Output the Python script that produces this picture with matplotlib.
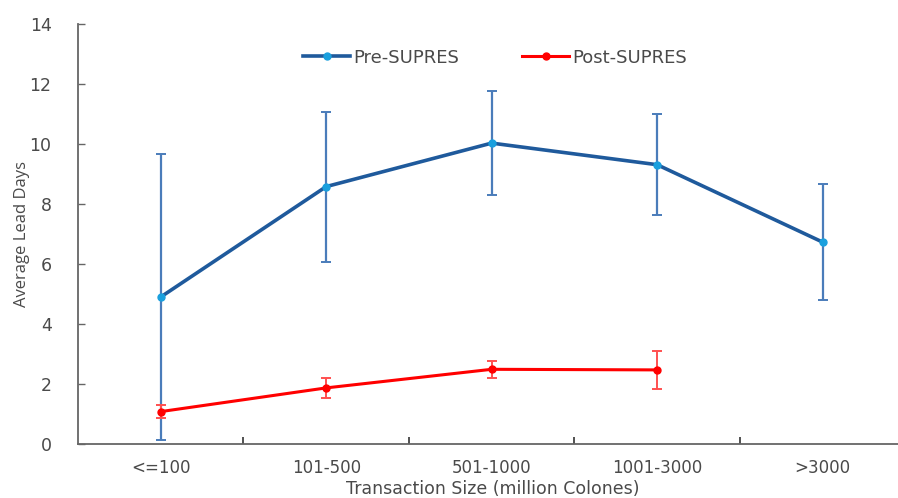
import matplotlib
matplotlib.use("Agg")
import matplotlib.pyplot as plt
from matplotlib.lines import Line2D
import numpy as np

categories = ["<=100", "101-500", "501-1000", "1001-3000", ">3000"]
pre_mean = [4.9, 8.58, 10.03, 9.31, 6.73]
pre_err = [4.78, 2.5, 1.74, 1.68, 1.94]
post_mean = [1.08, 1.87, 2.49, 2.47]
post_err = [0.22, 0.32, 0.28, 0.64]

plt.rcParams["font.family"] = ["DejaVu Sans"]
text_color = "#4a4a4a"

fig = plt.figure(figsize=(8.98, 4.98), dpi=100)
ax = fig.add_axes([78 / 898, 54 / 498, 1 - 78 / 898 + 0.01, (444 - 24) / 498])

x = np.arange(len(categories))
ax.errorbar(x, pre_mean, yerr=pre_err, color="#1F5A9C", lw=2.6,
            marker="o", ms=5, mfc="#1AA0DE", mec="#1AA0DE",
            ecolor="#4A7CBA", elinewidth=1.6, capsize=3.5, capthick=1.4,
            zorder=3)
ax.errorbar(x[:len(post_mean)], post_mean, yerr=post_err, color="#FF0000", lw=2.2,
            marker="o", ms=5, mfc="#FF0000", mec="#FF0000",
            ecolor="#FF5050", elinewidth=1.4, capsize=3.5, capthick=1.4,
            zorder=4)

ax.set_xlim(-0.5, 4.51)
ax.set_ylim(0, 14)
ax.set_yticks(np.arange(0, 15, 2))
ax.set_xticks(x)
ax.set_xticklabels(categories)
ax.set_xticks(np.arange(0.5, 4, 1), minor=True)
ax.tick_params(axis="x", which="major", length=0, pad=11, labelsize=12, labelcolor=text_color)
ax.tick_params(axis="x", which="minor", direction="in", length=5, width=1.2, color="#333333")
ax.tick_params(axis="y", direction="in", length=5, width=1, color="#666666",
               pad=19, labelsize=12.5, labelcolor=text_color)

for side in ("top", "right"):
    ax.spines[side].set_visible(False)
for side in ("left", "bottom"):
    ax.spines[side].set_color("#666666")
    ax.spines[side].set_linewidth(1.3)

ax.set_xlabel("Transaction Size (million Colones)", fontsize=12.5, color=text_color, labelpad=2)
ax.set_ylabel("Average Lead Days", fontsize=12, color=text_color, labelpad=0,
              family=["Open Sans", "DejaVu Sans"])

handles = [
    Line2D([], [], color="#1F5A9C", lw=2.6, marker="o", ms=5, mfc="#1AA0DE", mec="#1AA0DE"),
    Line2D([], [], color="#FF0000", lw=2.2, marker="o", ms=5, mfc="#FF0000", mec="#FF0000"),
]
leg = ax.legend(handles, ["Pre-SUPRES", "Post-SUPRES"], loc="center",
                bbox_to_anchor=(0.503, 0.92), ncol=2, frameon=False,
                fontsize=13, columnspacing=3.5, handlelength=2.6, handletextpad=0.15)
for t in leg.get_texts():
    t.set_color(text_color)

fig.savefig("out.png", dpi=100, facecolor="white")
